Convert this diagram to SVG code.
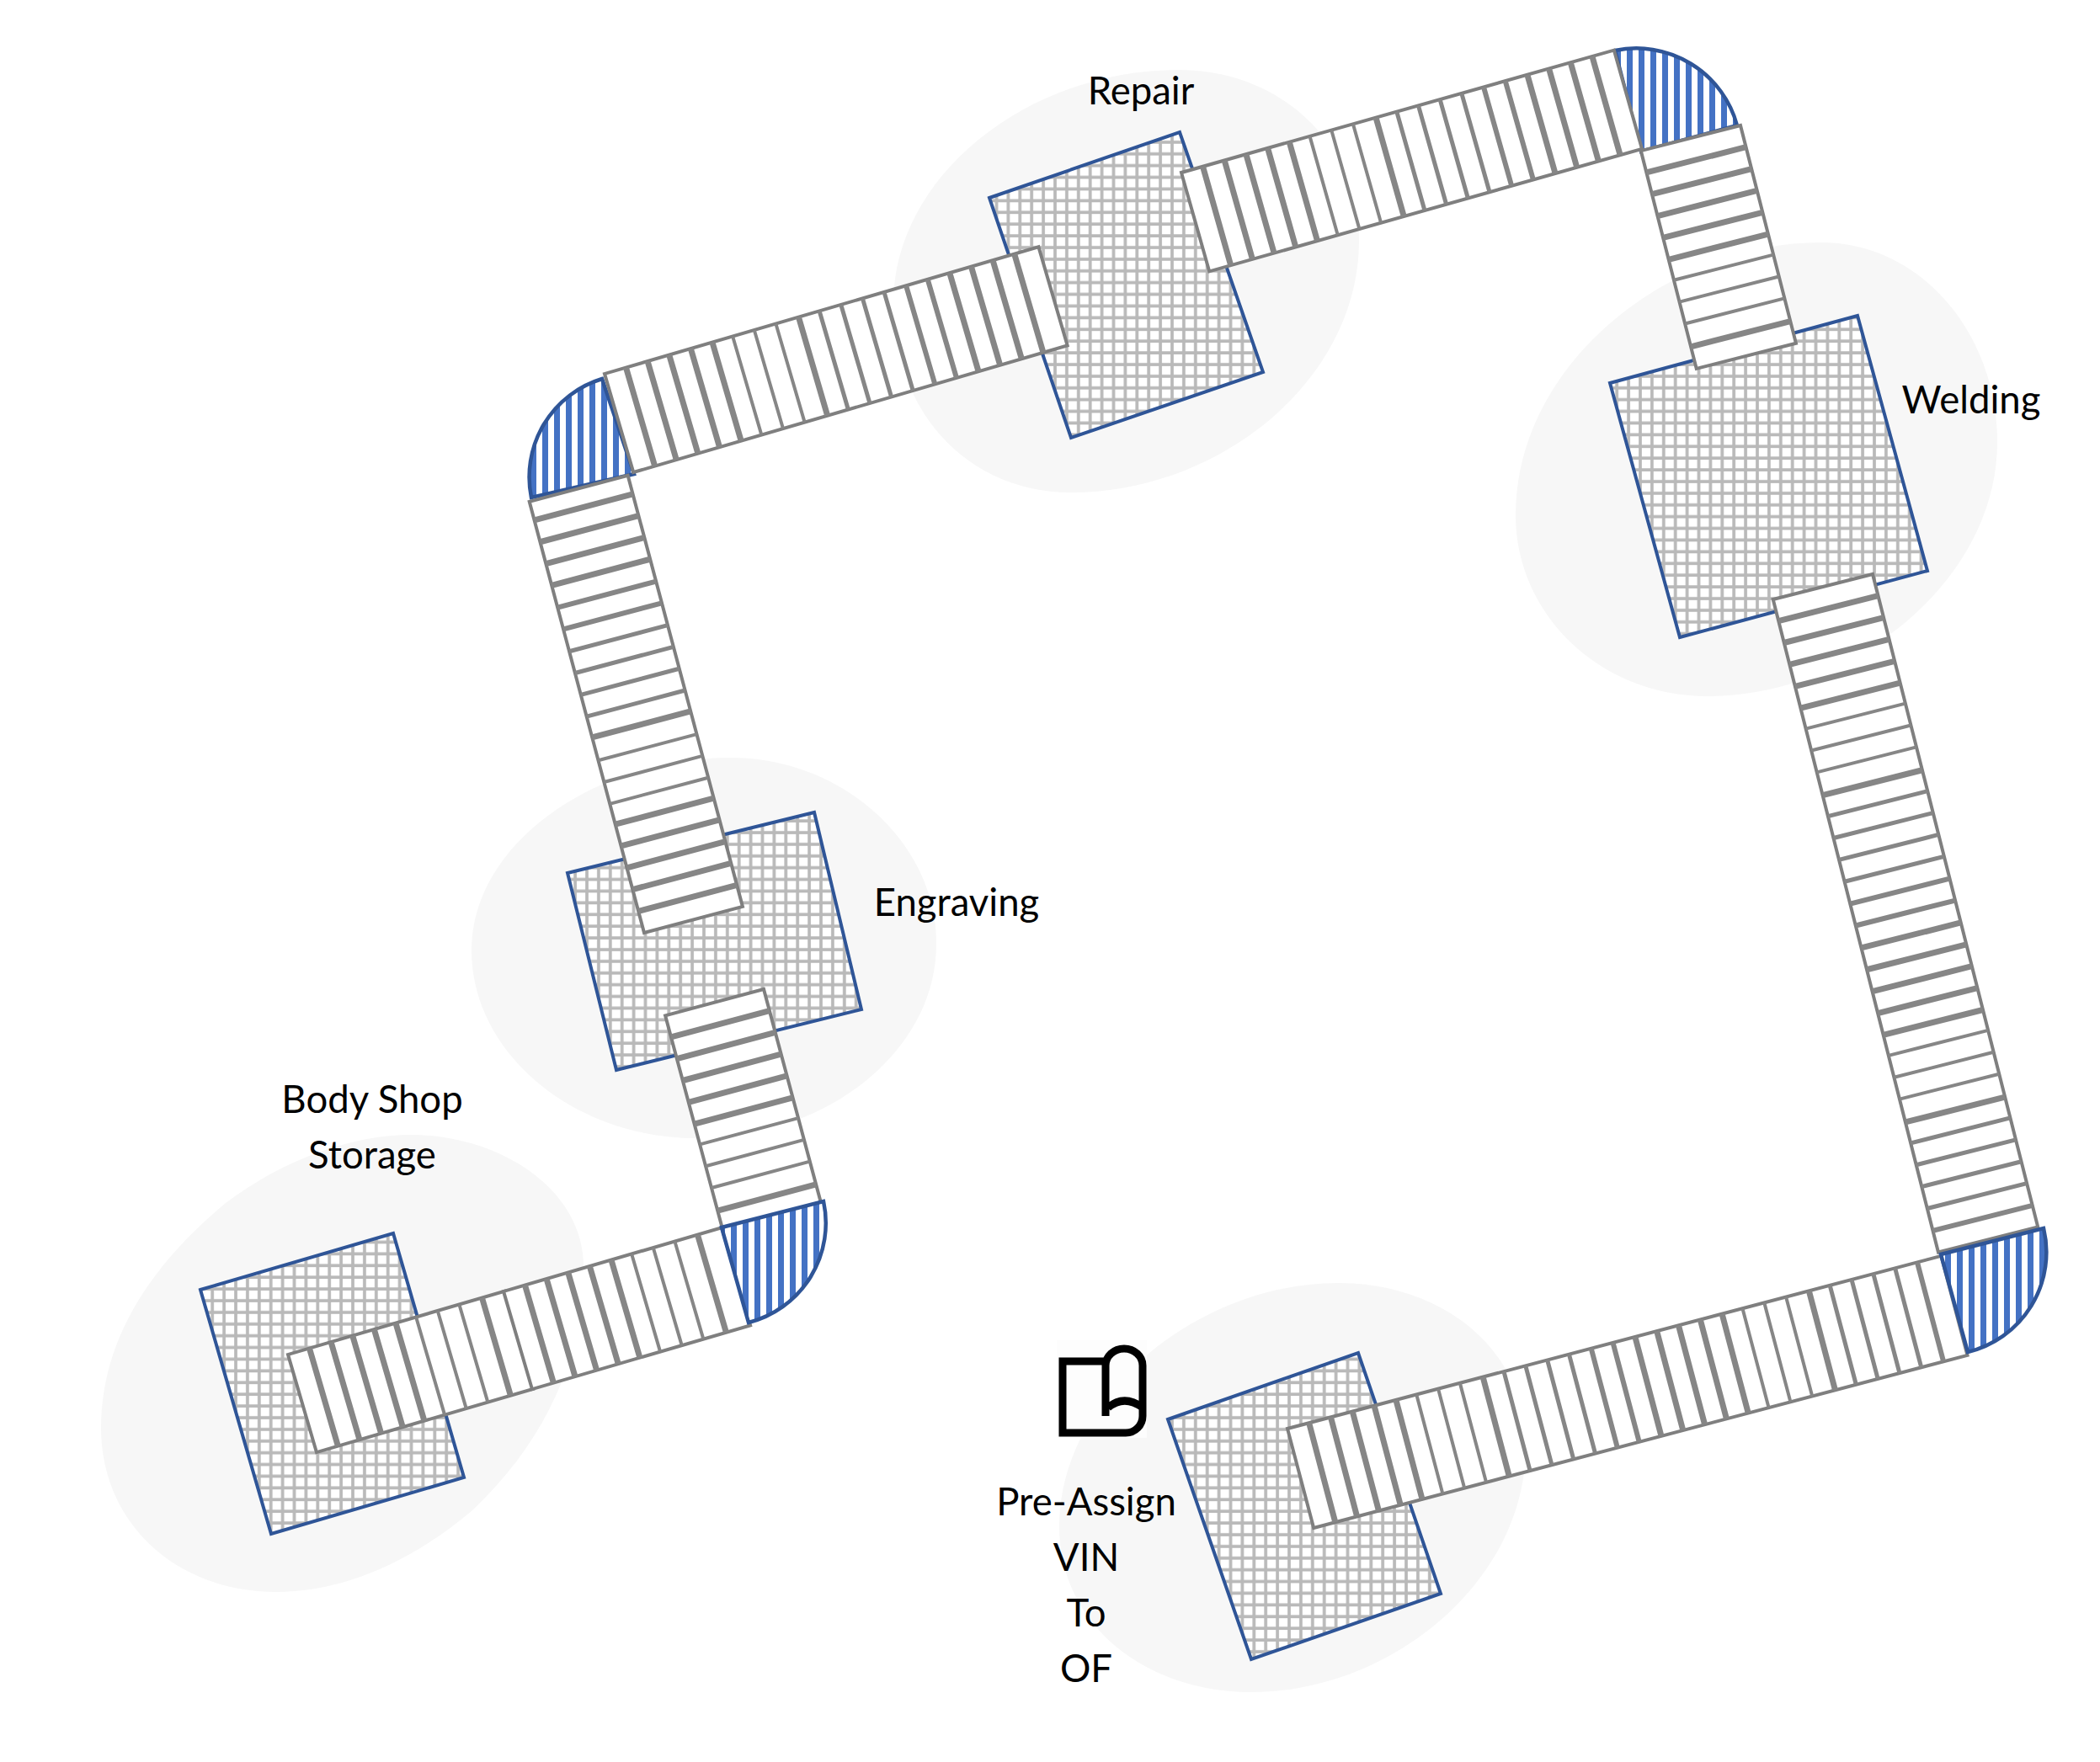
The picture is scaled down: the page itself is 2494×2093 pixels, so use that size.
<svg xmlns="http://www.w3.org/2000/svg" width="2494" height="2093" viewBox="0 0 2494 2093">
<style>
.zone{fill:#f7f7f7}
.cell{fill:url(#grid);stroke:#2f5597;stroke-width:4;stroke-linejoin:miter}
.belt{fill:#fff;stroke:#7f7f7f;stroke-width:4}
.slats{fill:none;stroke:#868686;stroke-dasharray:7 19.7 7 19.7 7 19.7 7 19.7 7 19.7 4 22.7 4 22.7 4 22.7 7 19.7 5 21.7 5 21.7 5 21.7 5 21.7 6 20.7 6 20.7}
.turn{fill:url(#vbars);stroke:#2f5597;stroke-width:4.5;stroke-linejoin:miter}
text{font-family:"Lato","Liberation Sans",sans-serif;font-size:45.5px;fill:#000;text-anchor:middle}
</style>
<defs>
<pattern id="grid" width="13.9" height="13.9" patternUnits="userSpaceOnUse">
<rect width="13.9" height="13.9" fill="#fff"/>
<path d="M0 2H13.9M2 0V13.9" stroke="#b9b9b9" stroke-width="3.7" fill="none"/>
</pattern>
<pattern id="vbars" width="14" height="14" patternUnits="userSpaceOnUse">
<rect width="14" height="14" fill="#fff"/>
<rect width="7" height="14" fill="#4472c4"/>
</pattern>
</defs>
<g id="zones">
<path class="zone" d="M489,1348C590,1348 693,1410 693,1505C693,1610 650,1710 560,1795C480,1862 400,1891 328,1891C210,1891 120,1810 120,1696C120,1600 170,1510 268,1429C340,1375 420,1348 489,1348Z"/>
<path class="zone" d="M867,900C1000,900 1112,1000 1112,1121C1112,1250 980,1352 827,1352C680,1352 560,1250 560,1129C560,1000 710,900 867,900Z"/>
<path class="zone" d="M1400,83C1520,83 1614,170 1614,286C1614,450 1450,585 1272,585C1150,585 1061,490 1061,360C1061,210 1220,83 1400,83Z"/>
<path class="zone" d="M2163,288C2280,288 2372,395 2372,525C2372,690 2200,827 2028,827C1900,827 1800,730 1800,612C1800,430 1985,288 2163,288Z"/>
<path class="zone" d="M1590,1524C1710,1524 1812,1600 1812,1718C1812,1880 1650,2010 1487,2010C1360,2010 1258,1930 1258,1813C1258,1660 1420,1524 1590,1524Z"/>
</g>
<g id="body-shop-storage"><polygon class="cell" points="238,1532 467,1465 551,1755 322,1822"/><text x="442" y="1322">Body Shop</text><text x="442" y="1388">Storage</text></g>
<g id="engraving"><polygon class="cell" points="674,1037 967,965 1023,1199 732,1271"/><text x="1136" y="1088">Engraving</text></g>
<g id="repair"><polygon class="cell" points="1175,235 1401,157 1500,442 1272,520"/><text x="1355" y="124">Repair</text></g>
<g id="welding"><polygon class="cell" points="1912,455 2206,375 2289,678 1995,757"/><text x="2341" y="491">Welding</text></g>
<g id="pre-assign"><polygon class="cell" points="1387,1686 1613,1607 1711,1893 1486,1971"/>
<rect x="1255" y="1592" width="107" height="116" fill="#fdfdfd"/>
<path d="M1313,1682V1622A22,20 0 0 1 1357,1622V1682A20,20 0 0 1 1337,1702H1262V1617H1313M1316,1672Q1335,1656 1357,1672" fill="none" stroke="#000" stroke-width="9"/>
<text x="1290" y="1800">Pre-Assign</text><text x="1290" y="1866">VIN</text><text x="1290" y="1932">To</text><text x="1290" y="1998">OF</text></g>
<g id="connectors">
<path id="turn-top-left" class="turn" d="M631,591A122,122 0 0 1 715,450L753,563Z"/>
<path id="turn-top-right" class="turn" d="M1918,60A124,124 0 0 1 2063,149L1949,180Z"/>
<g transform="translate(342,1609) rotate(-16.3)"><rect class="belt" width="268" height="121"/><line class="slats" x1="23" y1="60.5" x2="250" y2="60.5" stroke-width="121"/></g>
<g transform="translate(598,1534) rotate(-16.3)"><rect class="belt" width="270" height="121"/><line class="slats" x1="23" y1="60.5" x2="255" y2="60.5" stroke-width="121"/></g>
<g transform="translate(907,1175) rotate(75)"><rect class="belt" width="262" height="121"/><line class="slats" x1="23" y1="60.5" x2="250" y2="60.5" stroke-width="121"/></g>
<g transform="translate(765,1108) rotate(-104.9)"><rect class="belt" width="530" height="121"/><line class="slats" x1="23" y1="60.5" x2="518" y2="60.5" stroke-width="121"/></g>
<g transform="translate(718,444) rotate(-16.3)"><rect class="belt" width="537" height="122"/><line class="slats" x1="23" y1="61" x2="520" y2="61" stroke-width="122"/></g>
<g transform="translate(1403,205) rotate(-15.8)"><rect class="belt" width="534" height="122"/><line class="slats" x1="23" y1="61" x2="520" y2="61" stroke-width="122"/></g>
<g transform="translate(2067,149) rotate(75.7)"><rect class="belt" width="267" height="122"/><line class="slats" x1="23" y1="61" x2="255" y2="61" stroke-width="122"/></g>
<g transform="translate(2224,682) rotate(75.8)"><rect class="belt" width="800" height="122"/><line class="slats" x1="23" y1="61" x2="790" y2="61" stroke-width="122"/></g>
<g transform="translate(1529,1697) rotate(-14.8)"><rect class="belt" width="803" height="122"/><line class="slats" x1="23" y1="61" x2="790" y2="61" stroke-width="122"/></g>
<path id="turn-bottom-right" class="turn" d="M2305,1490L2427,1459A122,122 0 0 1 2337,1606Z"/>
<path id="turn-bottom-left" class="turn" d="M857,1458L978,1427A122,122 0 0 1 889,1571Z"/>
</g>
</svg>
